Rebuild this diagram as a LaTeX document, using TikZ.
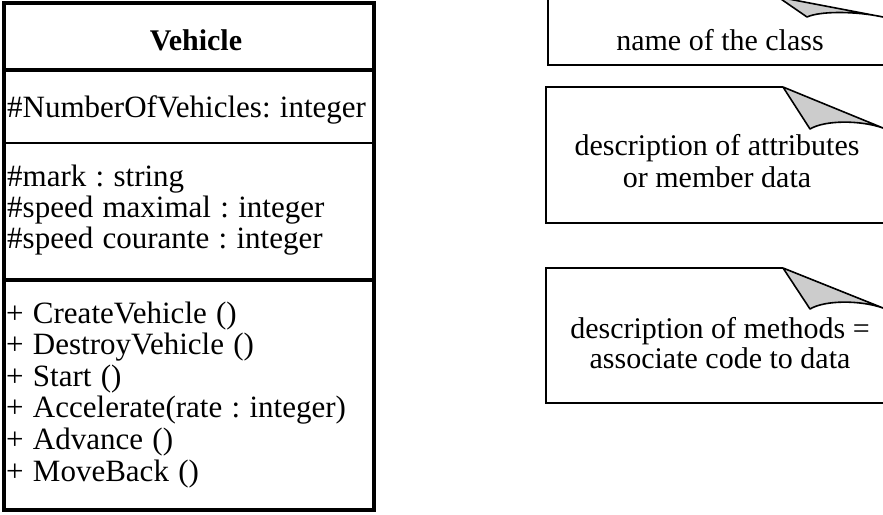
\documentclass[tikz,border=0pt]{standalone}
\usepackage{fontspec}
\setmainfont{Liberation Serif}
\usetikzlibrary{positioning,calc}
\frenchspacing
\newcommand\memberfont{\fontsize{31}{32}\selectfont\spaceskip=9.3pt plus 2pt\relax}
\tikzset{
	classline/.style={draw=black, line width=4pt},
	thinline/.style={draw=black, line width=1.5pt},
	noteline/.style={draw=black, line width=1.6pt},
	member/.style={anchor=base west, inner sep=0pt, font=\memberfont},
	classname/.style={anchor=base, inner sep=0pt, font=\fontsize{30}{31}\selectfont\bfseries},
	notetext/.style={anchor=base, inner sep=0pt, font=\fontsize{30}{31}\selectfont},
	flap/.style={fill=black!20, draw=black, line width=1.6pt, line join=round}
}

\begin{document}
\begin{tikzpicture}[x=1pt,y=-1pt]
	\useasboundingbox (0,0) rectangle (883,514);
	\clip (0,0) rectangle (883,514);
	\fill[white] (0,0) rectangle (883,514);
	%%%class Vehicle
	\draw[classline] (4,3) rectangle (374,510);
	\draw[classline] (4,70) -- (374,70);
	\draw[thinline] (4,143) -- (374,143);
	\draw[classline] (4,280) -- (374,280);
	\node[classname] (cname) at (196,50) {Vehicle};
	\node[member] (a0) at (7,117) {\#NumberOfVehicles: integer};
	\foreach \txt [count=\i] in {{\#mark : string},{\#speed maximal : integer},{\#speed courante : integer}}
		\node[member] (a\i) at (7,155+31*\i) {\txt};
	\foreach \txt [count=\i] in {{+ CreateVehicle ()},{+ DestroyVehicle ()},{+ Start ()},{+ Accelerate(rate : integer)},{+ Advance ()},{+ MoveBack ()}}
		\node[member] (m\i) at (6,291.4+31.6*\i) {\txt};
	
	%%%notes
	\draw[noteline] (890,65) -- (548,65) -- (548,-3) -- (778,-3);
	\filldraw[flap] (778,-3) -- (807,17) .. controls (820,11) and (855,11) .. (883,17) -- cycle;
	\node[notetext] (n1) at (720,50) {name of the class};
	
	\draw[noteline] (890,223) -- (546,223) -- (546,87) -- (783,87);
	\filldraw[flap] (783,87) -- (810,129) .. controls (825,120) and (860,120) .. (883,128) -- cycle;
	\node[notetext] (n2a) at (717,155) {description of attributes};
	\node[notetext] (n2b) at (717,187) {or member data};
	
	\draw[noteline] (890,403) -- (546,403) -- (546,268) -- (783,268);
	\filldraw[flap] (783,268) -- (810,309) .. controls (825,300) and (860,300) .. (883,308) -- cycle;
	\node[notetext] (n3a) at (720,338) {description of methods =};
	\node[notetext] (n3b) at (720,368) {associate code to data};
\end{tikzpicture}
\end{document}
